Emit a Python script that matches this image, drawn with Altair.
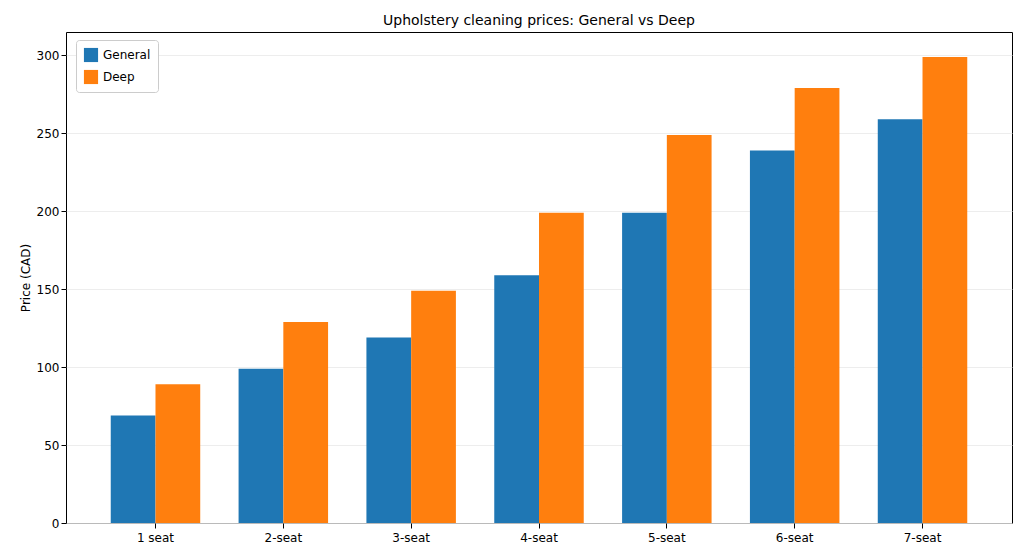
import altair as alt
import pandas as pd

sizes = ["1 seat", "2-seat", "3-seat", "4-seat", "5-seat", "6-seat", "7-seat"]
general = [69, 99, 119, 159, 199, 239, 259]
deep = [89, 129, 149, 199, 249, 279, 299]

rows = []
for s, g, d in zip(sizes, general, deep):
    rows.append({"size": s, "type": "General", "price": g})
    rows.append({"size": s, "type": "Deep", "price": d})
df = pd.DataFrame(rows)

font = "DejaVu Sans"

chart = alt.Chart(df).mark_bar().encode(
    x=alt.X("size:N", sort=sizes, title=None,
            scale=alt.Scale(paddingInner=0.3, paddingOuter=0.35),
            axis=alt.Axis(labelAngle=0, labelFontSize=12, labelColor="black",
                          tickColor="black", domain=False, grid=False, labelPadding=4)),
    xOffset=alt.XOffset("type:N", sort=["General", "Deep"]),
    y=alt.Y("price:Q", title="Price (CAD)",
            scale=alt.Scale(domain=[0, 315], nice=False),
            axis=alt.Axis(values=[0, 50, 100, 150, 200, 250, 300], labelFontSize=12,
                          labelColor="black", tickColor="black", domain=False,
                          titleFontSize=12, titleFontWeight="normal", titleColor="black",
                          gridColor="#e8e8e8", gridOpacity=0.8)),
    color=alt.Color("type:N", sort=["General", "Deep"],
                    scale=alt.Scale(domain=["General", "Deep"], range=["#1f77b4", "#ff7f0e"]),
                    legend=alt.Legend(title=None, orient="none", legendX=10, legendY=8,
                                      symbolType="square", symbolSize=200, labelFontSize=12,
                                      strokeColor="#cccccc", padding=7, cornerRadius=3,
                                      fillColor="white", rowPadding=6, labelColor="black")),
).properties(
    width=946, height=491,
    title=alt.Title("Upholstery cleaning prices: General vs Deep", fontSize=14,
                    fontWeight="normal", color="black"),
    autosize=alt.AutoSizeParams(type="none"),
    padding={"left": 58, "top": 24, "right": 4, "bottom": 26},
).configure(font=font).configure_view(stroke="black", strokeWidth=1)

chart.save("out.html", embed_options={"renderer": "svg", "actions": False})
